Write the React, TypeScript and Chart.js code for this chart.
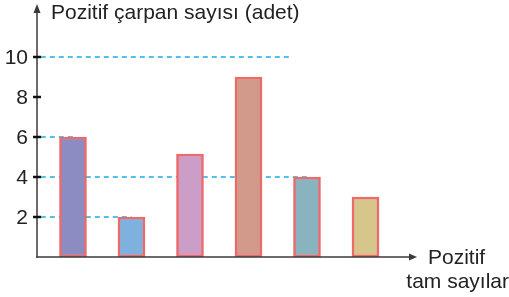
import React, { useEffect, useRef } from "react";
import { Chart, registerables } from "chart.js";

Chart.register(...registerables);

const barPositions = [1, 2, 3, 4, 5, 6];
const barValues = [6, 2, 5.15, 9, 4, 3];
const barColors = ["#8c8bc2", "#7fb1df", "#cc9dc7", "#d19a8b", "#88b3bf", "#d7c68b"];
const yTicks = [2, 4, 6, 8, 10];
const guideValues = [10, 6, 4, 2];
const guideStarts = [0.45, 0.45, 0.45, 0.45];
const guideEnds = [4.71, 1, 5, 2];
const yTitle = "Pozitif çarpan sayısı (adet)";
const xTitle = ["Pozitif", "tam sayılar"];

const FONT = '"Liberation Sans", Arial, Helvetica, sans-serif';
const AXIS = "#3a3a3a";

const axesPlugin = {
  id: "axesPlugin",
  afterDraw(chart: any) {
    const { ctx, chartArea, scales } = chart;
    const x0 = chartArea.left;
    const y0 = chartArea.bottom;
    const yTop = chartArea.top;
    const xRight = chartArea.right;
    ctx.save();
    ctx.strokeStyle = AXIS;
    ctx.fillStyle = AXIS;
    ctx.lineWidth = 1.5;
    // y axis
    ctx.beginPath();
    ctx.moveTo(x0, y0 + 0.75);
    ctx.lineTo(x0, yTop + 2);
    ctx.stroke();
    ctx.beginPath();
    ctx.moveTo(x0, yTop - 4);
    ctx.lineTo(x0 - 3.5, yTop + 5);
    ctx.lineTo(x0 + 3.5, yTop + 5);
    ctx.closePath();
    ctx.fill();
    // x axis
    ctx.beginPath();
    ctx.moveTo(x0 - 0.75, y0);
    ctx.lineTo(xRight - 3, y0);
    ctx.stroke();
    ctx.beginPath();
    ctx.moveTo(xRight + 2, y0);
    ctx.lineTo(xRight - 6, y0 - 3.5);
    ctx.lineTo(xRight - 6, y0 + 3.5);
    ctx.closePath();
    ctx.fill();
    // y ticks
    ctx.fillStyle = "#222";
    ctx.strokeStyle = "#111";
    ctx.lineWidth = 2.5;
    ctx.font = `21px ${FONT}`;
    ctx.textAlign = "right";
    ctx.textBaseline = "middle";
    yTicks.forEach((v) => {
      const py = scales.y.getPixelForValue(v);
      ctx.beginPath();
      ctx.moveTo(x0 - 4, py);
      ctx.lineTo(x0 + 4, py);
      ctx.stroke();
      ctx.fillText(String(v), x0 - 9, py + 1);
    });
    // titles
    ctx.textAlign = "left";
    ctx.textBaseline = "alphabetic";
    ctx.fillText(yTitle, x0 + 14, yTop + 11);
    ctx.fillText(xTitle[0], xRight + 13, y0 + 7);
    ctx.textAlign = "right";
    ctx.fillText(xTitle[1], 509, y0 + 31);
    ctx.restore();
  },
};

export default function App() {
  const ref = useRef<HTMLCanvasElement | null>(null);
  useEffect(() => {
    if (!ref.current) return;
    const guideSets = guideValues.map((v, i) => ({
      type: "line" as const,
      data: [
        { x: guideStarts[i], y: v },
        { x: guideEnds[i], y: v },
      ],
      borderColor: "#1ea9e6",
      borderWidth: 1.4,
      borderDash: [5, 4],
      pointRadius: 0,
      fill: false,
      order: 2,
    }));
    const chart = new Chart(ref.current, {
      type: "bar",
      data: {
        datasets: [
          {
            type: "bar" as const,
            data: barPositions.map((p, i) => ({ x: p, y: barValues[i] })),
            backgroundColor: barColors,
            borderColor: "#ee6a6a",
            borderWidth: 2.5,
            borderSkipped: false,
            barThickness: 27,
            order: 0,
          } as any,
          ...guideSets,
        ],
      },
      options: {
        animation: false,
        responsive: false,
        maintainAspectRatio: false,
        devicePixelRatio: 1,
        layout: { padding: { left: 37, right: 94, top: 8, bottom: 40 } },
        plugins: { legend: { display: false }, tooltip: { enabled: false } },
        scales: {
          x: { type: "linear", min: 0.385, max: 6.846, display: false, offset: false },
          y: { type: "linear", min: 0, max: 12.45, display: false },
        },
      },
      plugins: [axesPlugin],
    });
    return () => chart.destroy();
  }, []);
  return (
    <div style={{ position: "absolute", left: 0, top: 0, width: 509, height: 297, background: "#fff" }}>
      <canvas ref={ref} width={509} height={297} />
    </div>
  );
}
